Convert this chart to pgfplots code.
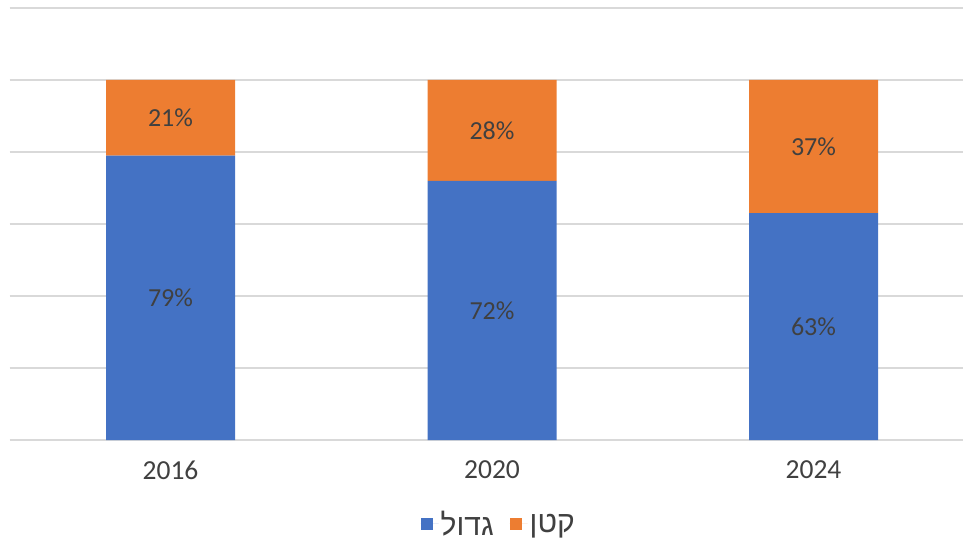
\documentclass[border=0pt]{standalone}
\usepackage{pgfplots}
\pgfplotsset{compat=1.18}
\usepackage{pgfplotstable}
\usepackage{fontspec}
\setmainfont{Carlito}
\newfontfamily\hebfont[Script=Hebrew]{Liberation Sans}
\TeXXeTstate=1
\definecolor{cblue}{HTML}{4472C4}
\definecolor{corange}{HTML}{ED7D31}
\definecolor{ctext}{HTML}{404040}
\definecolor{cgrid}{HTML}{D9D9D9}
\pgfplotstableread{
x big small
0 79 21
1 72 28
2 63 37
}\data
\begin{document}
\begin{tikzpicture}
\useasboundingbox (0,0) rectangle (963pt,541pt);
\begin{axis}[
  at={(9.75pt,101pt)}, anchor=south west,
  scale only axis, width=953.25pt, height=432pt,
  xmin=-0.5, xmax=2.465, ymin=0, ymax=120,
  ybar stacked, bar width=129pt,
  ytick={0,20,...,120}, yticklabels={},
  ymajorgrids, major grid style={cgrid, line width=1.5pt},
  axis line style={draw=none}, tick style={draw=none},
  xtick={0,1,2}, xticklabels={2016,2020,2024},
  xticklabel style={anchor=center, yshift=-30pt, text=ctext, font=\fontsize{27.5}{27.5}\selectfont},
  /pgf/number format/assume math mode=true,
  nodes near coords={\pgfmathprintnumber{\pgfplotspointmeta}\%},
  nodes near coords style={anchor=center, text=ctext, font=\fontsize{26}{26}\selectfont},
  legend image code/.code={\fill[#1] (0pt,-6pt) rectangle (12pt,6pt); \path (0pt,0pt) -- (18pt,0pt);},
  legend style={draw=none, fill=none, at={(0.513,-0.194)}, anchor=center,
    legend columns=2, font=\fontsize{30}{30}\selectfont, text=ctext,
    /tikz/every even column/.append style={column sep=14pt},
    /tikz/every odd column/.append style={column sep=0pt}},
]
\addplot[fill=cblue, draw=none, point meta=\thisrow{big}] table[x=x, y=big] {\data};
\addlegendentry{{\hebfont\beginR גדול\endR}}
\addplot[fill=corange, draw=none, point meta=\thisrow{small}] table[x=x, y=small] {\data};
\addlegendentry{{\hebfont\beginR קטן\endR}}
\end{axis}
\end{tikzpicture}
\end{document}
